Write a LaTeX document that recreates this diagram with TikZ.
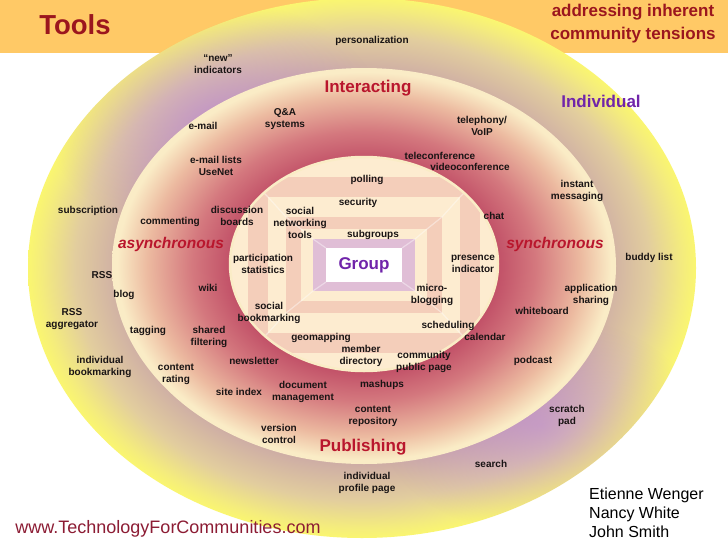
\documentclass[tikz,border=0pt]{standalone}
\usepackage{fontspec}
\setmainfont{Liberation Sans}
\usepackage{tikz}
\usetikzlibrary{positioning,fadings}

\definecolor{bandOrange}{RGB}{255,201,102}
\definecolor{titleRed}{RGB}{155,22,30}
\definecolor{zoneRed}{RGB}{185,22,45}
\definecolor{groupViolet}{RGB}{112,36,170}
\definecolor{urlRed}{RGB}{140,28,52}
\definecolor{labelInk}{RGB}{25,20,20}
\definecolor{outerMauve}{RGB}{205,172,165}
\definecolor{outerSand}{RGB}{226,205,158}
\definecolor{outerYellow}{RGB}{244,236,125}
\definecolor{outerRim}{RGB}{250,246,112}
\definecolor{roseDark}{RGB}{192,78,102}
\definecolor{roseMid}{RGB}{212,120,126}
\definecolor{roseLight}{RGB}{236,186,160}
\definecolor{creamEdge}{RGB}{250,236,198}
\definecolor{peachBase}{RGB}{250,217,176}
\definecolor{frameCream}{RGB}{253,236,208}
\definecolor{framePink}{RGB}{244,206,186}
\definecolor{frameLilac}{RGB}{224,190,214}
\definecolor{lilacTint}{RGB}{185,130,225}

\pgfdeclareradialshading{outerring}{\pgfpoint{0bp}{0bp}}{color(0bp)=(outerMauve); color(18bp)=(outerMauve); color(21.5bp)=(outerSand); color(24bp)=(outerYellow); color(25bp)=(outerRim); color(50bp)=(outerRim)}
\pgfdeclareradialshading{middlering}{\pgfpoint{0bp}{0bp}}{color(0bp)=(roseDark); color(13bp)=(roseDark); color(17bp)=(roseMid); color(21.5bp)=(roseLight); color(24.5bp)=(creamEdge); color(25bp)=(creamEdge); color(50bp)=(creamEdge)}
\tikzfading[name=fadeblob, inner color=transparent!45, outer color=transparent!100]

\begin{document}
\begin{tikzpicture}[x=1pt, y=-1pt,
    node distance=2pt,
    tool/.style={font=\bfseries\fontsize{10}{12}\selectfont, text=labelInk,
                 align=center, inner sep=0pt},
    zone/.style={font=\bfseries\fontsize{17}{20}\selectfont, text=zoneRed, inner sep=0pt},
    mode/.style={font=\bfseries\itshape\fontsize{15.5}{18}\selectfont, text=zoneRed, inner sep=0pt},
    level/.style={font=\bfseries\fontsize{17}{20}\selectfont, text=groupViolet, inner sep=0pt},
    bevel/.style={white, opacity=.4, line width=1.2pt}
  ]
  \useasboundingbox (0,0) rectangle (728,546);
  \fill[white] (0,0) rectangle (728,546);
  \fill[bandOrange] (0,0) rectangle (728,53);

  % individual ring
  \shade[shading=outerring] (362,268) ellipse [x radius=334pt, y radius=270pt];
  \begin{scope}
    \clip (362,268) ellipse [x radius=334pt, y radius=270pt];
    \fill[lilacTint, path fading=fadeblob] (215,120) ellipse [x radius=170pt, y radius=120pt];
    \fill[lilacTint, path fading=fadeblob] (540,425) ellipse [x radius=160pt, y radius=110pt];
  \end{scope}

  % interacting / publishing ring
  \shade[shading=middlering] (364,266) ellipse [x radius=252pt, y radius=198pt];

  % group core
  \begin{scope}
    \clip (364,264) ellipse [x radius=134pt, y radius=107pt];
    \fill[peachBase] (230,157) rectangle (498,371);
    \foreach \hw/\hh/\col in {165/130/framePink, 140/108/frameCream, 116/88/framePink,
        96/68/frameCream, 78/48/framePink, 63/36/frameCream, 51/26/frameLilac, 38/17/white}
      \fill[\col] (364-\hw,265-\hh) rectangle (364+\hw,265+\hh);
    \foreach \sx in {-1,1}
      \foreach \sy in {-1,1}
        \draw[bevel] (364+\sx*38,265+\sy*17) -- (364+\sx*51,265+\sy*26)
          -- (364+\sx*63,265+\sy*36) -- (364+\sx*78,265+\sy*48) -- (364+\sx*96,265+\sy*68)
          -- (364+\sx*116,265+\sy*88) -- (364+\sx*140,265+\sy*108) -- (364+\sx*165,265+\sy*130);
  \end{scope}
  \draw[creamEdge, line width=2.5pt] (364,264) ellipse [x radius=134pt, y radius=107pt];

  % titles
  \node[font=\bfseries\fontsize{27.5}{30}\selectfont, text=titleRed, inner sep=0pt] (tools) at (75,25) {Tools};
  \node[font=\bfseries\fontsize{17}{23}\selectfont, text=titleRed, align=center, inner sep=0pt]
    (tensions) at (633,24) {addressing inherent\\community tensions};
  \node[font=\fontsize{18}{20}\selectfont, text=urlRed, inner sep=0pt] (url) at (168,529)
    {www.TechnologyForCommunities.com};
  \node[font=\fontsize{16}{19}\selectfont, align=left, inner sep=0pt, anchor=west] (authors)
    at (589,513) {Etienne Wenger\\Nancy White\\John Smith};

  % zones
  \node[zone] (interacting) at (368,88) {Interacting};
  \node[zone] (publishing) at (363,447) {Publishing};
  \node[mode] (async) at (171,244) {asynchronous};
  \node[mode] (sync) at (555,244) {synchronous};
  \node[level] (individual) at (601,101) {Individual};
  \node[level] (group) at (364,265) {Group};

  % tools
  \node[tool] (personal) at (372,41) {personalization};
  \node[tool] (newind) at (218,64) {“new”\\indicators};
  \node[tool] (qanda) at (285,119) {Q\&A\\systems};
  \node[tool] (email) at (203,126) {e-mail};
  \node[tool] (voip) at (482,126) {telephony/\\VoIP};
  \node[tool] (tele) at (440,156) {teleconference};
  \node[tool] (video) at (470,167) {videoconference};
  \node[tool] (lists) at (216,166) {e-mail lists\\UseNet};
  \node[tool] (polling) at (367,180) {polling};
  \node[tool] (instant) at (577,191) {instant\\messaging};
  \node[tool] (security) at (358,203) {security};
  \node[tool] (subscr) at (88,211) {subscription};
  \node[tool] (boards) at (237,216) {discussion\\boards};
  \node[tool] (sns) at (300,223) {social\\networking\\tools};
  \node[tool] (comment) at (170,222) {commenting};
  \node[tool] (chat) at (494,216) {chat};
  \node[tool] (subgroups) at (373,235) {subgroups};
  \node[tool] (particip) at (263,264) {participation\\statistics};
  \node[tool] (presence) at (473,264) {presence\\indicator};
  \node[tool] (buddy) at (649,258) {buddy list};
  \node[tool] (rss) at (102,275) {RSS};
  \node[tool] (appshare) at (591,295) {application\\sharing};
  \node[tool] (wiki) at (208,288) {wiki};
  \node[tool] (micro) at (432,295) {micro-\\blogging};
  \node[tool] (blog) at (124,295) {blog};
  \node[tool] (socbook) at (269,313) {social\\bookmarking};
  \node[tool] (whiteboard) at (542,311) {whiteboard};
  \node[tool] (rssagg) at (72,319) {RSS\\aggregator};
  \node[tool] (tagging) at (148,331) {tagging};
  \node[tool] (shared) at (209,337) {shared\\filtering};
  \node[tool] (scheduling) at (448,326) {scheduling};
  \node[tool] (calendar) at (485,337) {calendar};
  \node[tool] (geomap) at (321,338) {geomapping};
  \node[tool] (member) at (361,356) {member\\directory};
  \node[tool] (public) at (424,362) {community\\public page};
  \node[tool] (indbook) at (100,367) {individual\\bookmarking};
  \node[tool] (newsletter) at (254,361) {newsletter};
  \node[tool] (podcast) at (533,361) {podcast};
  \node[tool] (rating) at (176,374) {content\\rating};
  \node[tool] (docman) at (303,392) {document\\management};
  \node[tool] (mashups) at (382,385) {mashups};
  \node[tool] (siteindex) at (239,392) {site index};
  \node[tool] (repository) at (373,416) {content\\repository};
  \node[tool] (scratch) at (567,416) {scratch\\pad};
  \node[tool] (version) at (279,434) {version\\control};
  \node[tool] (search) at (491,464) {search};
  \node[tool] (profile) at (367,483) {individual\\profile page};
\end{tikzpicture}
\end{document}
